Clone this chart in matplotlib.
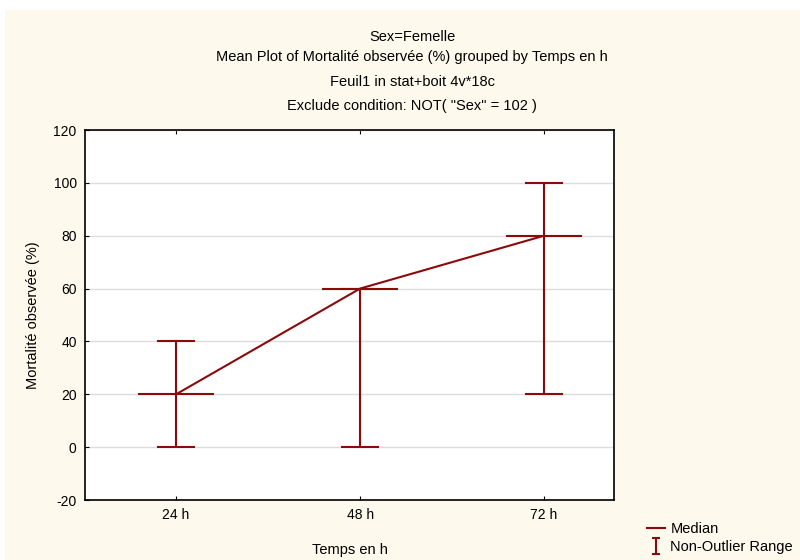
import matplotlib
matplotlib.use("Agg")
import matplotlib.pyplot as plt
from matplotlib.patches import Rectangle
from matplotlib.lines import Line2D
from matplotlib.path import Path

plt.rcParams['font.family'] = ['Liberation Sans', 'DejaVu Sans']
plt.rcParams['axes.unicode_minus'] = False

# data
groups = ["24 h", "48 h", "72 h"]
medians = [20, 60, 80]
lows = [0, 0, 20]
highs = [40, 60, 100]

red = "#8B0A0A"
cream = "#FEF9ED"

fig = plt.figure(figsize=(8, 5.6), dpi=100)
fig.patch.set_facecolor("white")
fig.patches.append(Rectangle((5 / 800, 0), 1, 550 / 560, transform=fig.transFigure,
                             facecolor=cream, edgecolor="none", zorder=-10))

ax = fig.add_axes([85 / 800, 60 / 560, 529 / 800, 370 / 560])
ax.set_facecolor("white")

x = list(range(len(groups)))
ax.plot(x, medians, color=red, lw=1.5, zorder=3)
for xi, m, lo, hi in zip(x, medians, lows, highs):
    ax.plot([xi, xi], [lo, hi], color=red, lw=1.5, zorder=3)
    ax.plot([xi - 0.1, xi + 0.1], [lo, lo], color=red, lw=1.5, zorder=3)
    ax.plot([xi - 0.1, xi + 0.1], [hi, hi], color=red, lw=1.5, zorder=3)
    ax.plot([xi - 0.2, xi + 0.2], [m, m], color=red, lw=1.5, zorder=3)

ax.set_xlim(-0.495, 2.38)
ax.set_ylim(-20, 120)
ax.set_yticks(range(-20, 121, 20))
ax.set_xticks(x)
ax.set_xticklabels(groups)
ax.yaxis.grid(True, color="#DDDDDD", lw=1)
ax.set_axisbelow(True)
ax.tick_params(direction="in", length=3, labelsize=10, top=True, colors="black", pad=6)
for s in ax.spines.values():
    s.set_linewidth(1.2)

ax.set_ylabel("Mortalité observée (%)", fontsize=10.5, labelpad=10)
ax.set_xlabel("Temps en h", fontsize=10.5, labelpad=15)

titles = ["Sex=Femelle",
          "Mean Plot of Mortalité observée (%) grouped by Temps en h",
          "Feuil1 in stat+boit 4v*18c",
          'Exclude condition: NOT( "Sex" = 102 )']
ys = [37, 57, 82, 106]
for t, yy in zip(titles, ys):
    fig.text(412 / 800, 1 - yy / 560, t, ha="center", va="center", fontsize=10.5)

# I-shaped marker for the range legend entry
ibar = Path([(-0.5, -1), (0.5, -1), (0, -1), (0, 1), (-0.5, 1), (0.5, 1)],
            [Path.MOVETO, Path.LINETO, Path.MOVETO, Path.LINETO, Path.MOVETO, Path.LINETO])
handles = [Line2D([0], [0], color=red, lw=1.5),
           Line2D([0], [0], color=red, marker=ibar, markersize=11, markeredgewidth=1.5,
                  markerfacecolor="none", linestyle="none")]
fig.legend(handles, ["Median", "Non-Outlier Range"], loc="center left",
           bbox_to_anchor=(634 / 800, 1 - 538 / 560), frameon=False, fontsize=10.5,
           handlelength=1.2, handletextpad=0.4, labelspacing=0.25)

fig.savefig("out.png", dpi=100, facecolor=fig.get_facecolor())
